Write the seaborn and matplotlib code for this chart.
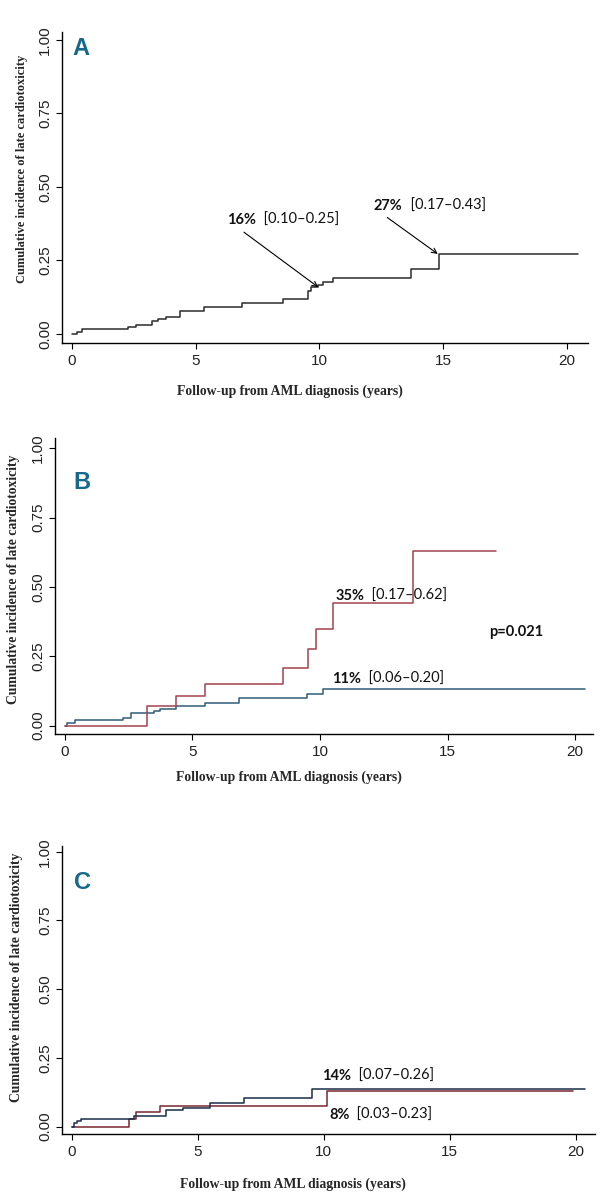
import matplotlib
matplotlib.use('Agg')
import matplotlib.pyplot as plt
import seaborn as sns

# Panel A - whole cohort, cumulative incidence
a_time = [0, 0.2, 0.4, 2.28, 2.59, 3.22, 3.49, 3.80, 4.36, 5.35, 6.86, 8.54,
          9.55, 9.64, 9.95, 10.15, 10.56, 13.70, 14.84, 20.46]
a_cif = [0, 0.007, 0.017, 0.022, 0.031, 0.045, 0.051, 0.057, 0.077, 0.093, 0.104,
         0.118, 0.146, 0.161, 0.168, 0.175, 0.19, 0.222, 0.272, 0.272]

# Panel B - two groups
b_red_time = [0, 3.2, 4.34, 5.49, 8.54, 9.54, 9.84, 10.52, 13.66, 16.9]
b_red_cif = [0, 0.071, 0.106, 0.149, 0.208, 0.275, 0.349, 0.441, 0.63, 0.63]
b_blue_time = [0, 0.09, 0.39, 2.29, 2.58, 3.5, 3.73, 4.34, 5.49, 6.84, 9.5, 10.13, 20.4]
b_blue_cif = [0, 0.011, 0.022, 0.028, 0.045, 0.053, 0.06, 0.072, 0.081, 0.099, 0.113, 0.133, 0.133]

# Panel C - two groups
c_blue_time = [0, 0.09, 0.2, 0.36, 2.47, 3.74, 4.4, 5.5, 6.85, 9.55, 20.37]
c_blue_cif = [0, 0.012, 0.021, 0.028, 0.040, 0.061, 0.067, 0.085, 0.103, 0.137, 0.137]
c_red_time = [0, 2.29, 2.55, 3.5, 10.13, 19.9]
c_red_cif = [0, 0.027, 0.052, 0.075, 0.129, 0.129]

y_ticks = [0, 0.25, 0.5, 0.75, 1.0]
y_ticklabels = ['0.00', '0.25', '0.50', '0.75', '1.00']
x_ticks = [0, 5, 10, 15, 20]
ylab = 'Cumulative incidence of late cardiotoxicity'
xlab = 'Follow-up from AML diagnosis (years)'

sns.set_style('white')
plt.rcParams['font.family'] = ['Liberation Sans', 'DejaVu Sans']

W, H = 606, 1192
fig = plt.figure(figsize=(W / 100, H / 100), dpi=100)


def panel(left, right, top, bottom):
    return fig.add_axes([left / W, 1 - bottom / H, (right - left) / W, (bottom - top) / H])


def style(ax, xlim, ylim, ylab_xy, ylab_size, xlab_xy, letter, letter_xy):
    ax.set_xlim(*xlim)
    ax.set_ylim(*ylim)
    ax.set_xticks(x_ticks)
    ax.set_yticks(y_ticks)
    ax.set_yticklabels(y_ticklabels)
    sns.despine(ax=ax)
    for s in ['left', 'bottom']:
        ax.spines[s].set_color('black')
        ax.spines[s].set_linewidth(1.0)
    ax.tick_params(axis='both', direction='out', length=4, width=0.8, color='black',
                   labelsize=11, labelcolor='#222222', left=True, bottom=True)
    ax.tick_params(axis='y', labelrotation=90, pad=3)
    ax.tick_params(axis='x', pad=4)
    for lab in ax.get_yticklabels():
        lab.set_va('center')
    ax.set_ylabel(ylab, family='Liberation Serif', fontweight='bold', fontsize=ylab_size)
    ax.yaxis.set_label_coords(*ylab_xy)
    ax.set_xlabel(xlab, family='Liberation Serif', fontweight='bold', fontsize=9.8)
    ax.xaxis.set_label_coords(*xlab_xy)
    ax.set_facecolor('white')
    ax.text(letter_xy[0], letter_xy[1], letter, ha='center', va='center', fontsize=17,
            fontweight='bold', color='#17698c',
            family=['Liberation Sans Narrow', 'Liberation Sans'])


def ci_label(ax, x, y, pct, ci):
    t = ax.text(x, y, pct, fontweight='bold', fontsize=10.5, va='center', ha='left',
                family=['Lato', 'DejaVu Sans'], color='#111111')
    ax.annotate('  ' + ci, xy=(1, 0), xycoords=t, va='bottom', ha='left', fontsize=10.5,
                family=['Lato', 'DejaVu Sans'], color='#111111')


def curve(ax, t, c, color):
    sns.lineplot(x=t, y=c, drawstyle='steps-post', estimator=None, sort=False,
                 color=color, lw=1.1, ax=ax)


arrow = dict(arrowstyle='->', color='black', lw=0.8, shrinkA=0, shrinkB=0, mutation_scale=9)

# ---- Panel A
axA = panel(62, 588, 31.7, 343)
curve(axA, a_time, a_cif, '#2b2b2b')
style(axA, (-0.40, 20.85), (-0.031, 1.028), (-0.065, 0.56), 9, (0.433, -0.132), 'A', (0.38, 0.971))
ci_label(axA, 6.25, 0.388, '16%', '[0.10–0.25]')
axA.annotate('', xy=(9.95, 0.159), xytext=(6.95, 0.346), arrowprops=arrow)
ci_label(axA, 12.2, 0.435, '27%', '[0.17–0.43]')
axA.annotate('', xy=(14.78, 0.272), xytext=(12.74, 0.396), arrowprops=arrow)

# ---- Panel B
axB = panel(55, 593, 438, 734)
curve(axB, b_blue_time, b_blue_cif, '#2f5d78')
curve(axB, b_red_time, b_red_cif, '#a3434d')
style(axB, (-0.39, 20.7), (-0.030, 1.037), (-0.065, 0.524), 9.8, (0.435, -0.125), 'B', (0.65, 0.877))
ci_label(axB, 10.59, 0.468, '35%', '[0.17–0.62]')
ci_label(axB, 10.46, 0.168, '11%', '[0.06–0.20]')
axB.text(16.63, 0.339, 'p=0.021', fontweight='bold', fontsize=10.5, va='center', ha='left',
         family=['Lato', 'DejaVu Sans'], color='#111111')

# ---- Panel C
axC = panel(61.7, 595, 846, 1134)
curve(axC, c_red_time, c_red_cif, '#7a2630')
curve(axC, c_blue_time, c_blue_cif, '#1a2c48')
style(axC, (-0.40, 20.77), (-0.027, 1.021), (-0.073, 0.545), 9.8, (0.434, -0.150), 'C', (0.41, 0.888))
ci_label(axC, 9.92, 0.184, '14%', '[0.07–0.26]')
ci_label(axC, 10.21, 0.043, '8%', '[0.03–0.23]')

fig.savefig('out.png', dpi=100, facecolor='white')
